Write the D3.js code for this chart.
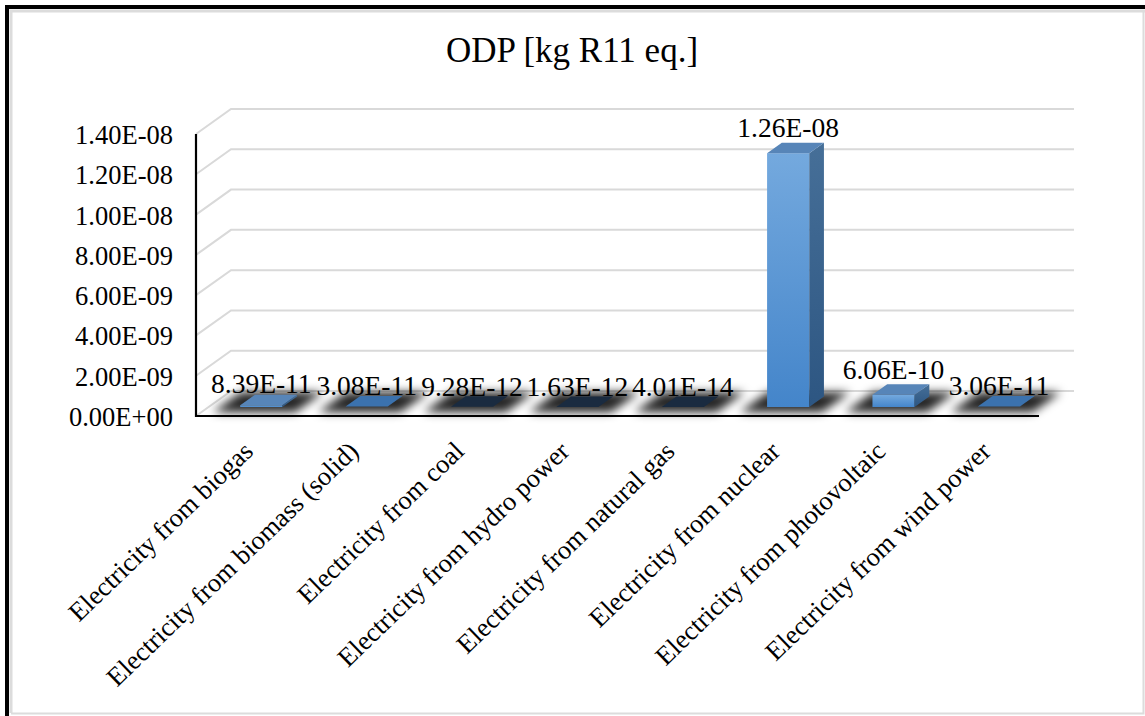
<!DOCTYPE html>
<html>
<head>
<meta charset="utf-8">
<script src="https://cdn.jsdelivr.net/npm/d3@7"></script>
<style>
  html, body { margin: 0; padding: 0; background: #fff; }
  svg { display: block; }
  text { font-family: "Liberation Serif", "Times New Roman", serif; fill: #000; }
</style>
</head>
<body>
<svg id="chart" width="1145" height="716"></svg>
<script>
// ODP per kWh of electricity, by generation source
const title = "ODP [kg R11 eq.]";
const categories = [
  "Electricity from biogas",
  "Electricity from biomass (solid)",
  "Electricity from coal",
  "Electricity from hydro power",
  "Electricity from natural gas",
  "Electricity from nuclear",
  "Electricity from photovoltaic",
  "Electricity from wind power"
];
const values = [8.39e-11, 3.08e-11, 9.28e-12, 1.63e-12, 4.01e-14, 1.26e-8, 6.06e-10, 3.06e-11];
const yTicks = [0, 2e-9, 4e-9, 6e-9, 8e-9, 1.0e-8, 1.2e-8, 1.4e-8];

const W = 1145, H = 716;
const svg = d3.select("#chart");

// Excel-style scientific notation: 1.26E-08
function sci(v) {
  const [m, e] = v.toExponential(2).split("e");
  const n = Math.abs(+e);
  return m + "E" + (+e < 0 ? "-" : "+") + String(n).padStart(2, "0");
}

// front plane of the 3-D box and its depth offset
const front = { left: 196, right: 1039, bottom: 416, top: 134 };
const depth = { dx: 35, dy: -25 };
const barDepth = [0.36, 0.78];   // bar occupies this slice of the depth

const x = d3.scaleBand().domain(categories)
  .range([front.left, front.right]).paddingInner(0.6).paddingOuter(0.3);
const y = d3.scaleLinear().domain([0, 1.4e-8]).range([front.bottom, front.top]);

const defs = svg.append("defs");
const gFront = defs.append("linearGradient").attr("id", "gFront")
  .attr("x1", 0).attr("y1", 0).attr("x2", 0).attr("y2", 1);
gFront.append("stop").attr("offset", 0).attr("stop-color", "#74a9de");
gFront.append("stop").attr("offset", 1).attr("stop-color", "#4485ca");
const gSide = defs.append("linearGradient").attr("id", "gSide")
  .attr("x1", 0).attr("y1", 0).attr("x2", 0).attr("y2", 1);
gSide.append("stop").attr("offset", 0).attr("stop-color", "#466f98");
gSide.append("stop").attr("offset", 1).attr("stop-color", "#2d5682");
defs.append("filter").attr("id", "soft")
  .attr("x", "-50%").attr("y", "-100%").attr("width", "200%").attr("height", "300%")
  .append("feGaussianBlur").attr("stdDeviation", 5);

// frame
svg.append("rect").attr("x", 5).attr("y", 5).attr("width", W - 5).attr("height", H - 5).attr("fill", "#000");
svg.append("rect").attr("x", 9).attr("y", 9).attr("width", W - 9).attr("height", H - 9).attr("fill", "#fff");
svg.append("path")
  .attr("d", `M11,713 V11 H${W}`)
  .attr("fill", "none").attr("stroke", "#dcdcdc").attr("stroke-width", 3);
svg.append("path")
  .attr("d", `M11,713.5 H1143.5 V11`)
  .attr("fill", "none").attr("stroke", "#dcdcdc").attr("stroke-width", 2);

// title
svg.append("text").attr("x", 572).attr("y", 62)
  .attr("text-anchor", "middle").style("font-size", "35px").text(title);

// gridlines: left wall stub + back wall line
const grid = svg.append("g").attr("fill", "none").attr("stroke", "#d9d9d9").attr("stroke-width", 2);
yTicks.forEach(t => {
  const yf = y(t);
  grid.append("path").attr("d",
    `M${front.left},${yf} L${front.left + depth.dx},${yf + depth.dy} L${front.right + depth.dx},${yf + depth.dy}`);
});

// y tick labels
svg.append("g").selectAll("text").data(yTicks).join("text")
  .attr("x", 173).attr("y", d => y(d) + 1)
  .attr("text-anchor", "end").attr("dominant-baseline", "central")
  .style("font-size", "26.5px").text(sci);

// bar geometry
const bw = x.bandwidth();
const f0 = { dx: depth.dx * barDepth[0], dy: depth.dy * barDepth[0] };
const fd = { dx: depth.dx * (barDepth[1] - barDepth[0]), dy: depth.dy * (barDepth[1] - barDepth[0]) };
const bars = categories.map((c, i) => {
  const x0 = x(c) + f0.dx;
  const yb = y(0) + f0.dy;
  const yt = y(values[i]) + f0.dy;
  return { c, v: values[i], x0, x1: x0 + bw, yb, yt };
});

// floor shadows under each bar
const sd0 = 0.15, sd1 = 0.95, spread = 20;
svg.append("g").attr("filter", "url(#soft)").selectAll("path").data(bars).join("path")
  .attr("d", d => {
    const xl = x(d.c) - spread, xr = x(d.c) + bw + spread, yb = y(0);
    const a = { dx: depth.dx * sd0, dy: depth.dy * sd0 }, b = { dx: depth.dx * sd1, dy: depth.dy * sd1 };
    return `M${xl + a.dx},${yb + a.dy} L${xr + a.dx},${yb + a.dy} L${xr + b.dx},${yb + b.dy} L${xl + b.dx},${yb + b.dy} Z`;
  })
  .attr("fill", "#000").attr("opacity", 0.85);

// bars: front face, side face, top face
const gb = svg.append("g");
bars.forEach(d => {
  const h = d.yb - d.yt;
  if (h >= 1) {
    gb.append("rect").attr("x", d.x0).attr("y", d.yt).attr("width", bw).attr("height", h)
      .attr("fill", "url(#gFront)");
    gb.append("path").attr("d",
      `M${d.x1},${d.yt} L${d.x1 + fd.dx},${d.yt + fd.dy} L${d.x1 + fd.dx},${d.yb + fd.dy} L${d.x1},${d.yb} Z`)
      .attr("fill", "url(#gSide)");
  }
  const topFill = h >= 1 ? "#5785b8" : (h >= 0.5 ? "#3b72ae" : "#1a2b40");
  gb.append("path").attr("d",
    `M${d.x0},${d.yt} L${d.x1},${d.yt} L${d.x1 + fd.dx},${d.yt + fd.dy} L${d.x0 + fd.dx},${d.yt + fd.dy} Z`)
    .attr("fill", topFill);
});

// data labels above each bar
svg.append("g").selectAll("text").data(bars).join("text")
  .attr("x", d => d.x0 + bw / 2)
  .attr("y", d => d.yt - 11 - Math.min(5, d.yb - d.yt))
  .attr("text-anchor", "middle").style("font-size", "27.5px")
  .text(d => sci(d.v));

// axis lines (front-left vertical and front-bottom horizontal)
svg.append("path")
  .attr("d", `M${front.left},${y(1.4e-8)} V${y(0)} H${front.right}`)
  .attr("fill", "none").attr("stroke", "#000").attr("stroke-width", 2.2);

// category labels, rotated
svg.append("g").selectAll("text").data(categories).join("text")
  .attr("transform", c => `translate(${x(c) + bw / 2 + 6},${453}) rotate(-44)`)
  .attr("text-anchor", "end").style("font-size", "26.5px")
  .text(c => c);
</script>
</body>
</html>
